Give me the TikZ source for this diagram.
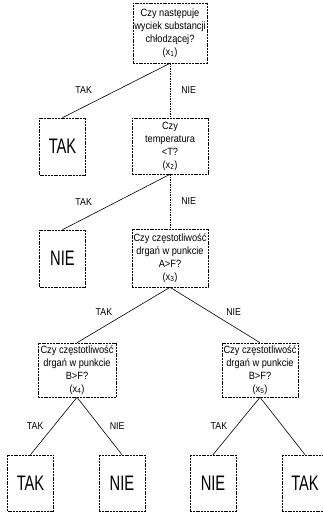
\documentclass[tikz,border=0pt]{standalone}
\usepackage{fontspec}
\setmainfont{Liberation Sans}[FakeStretch=0.88]
\newfontfamily\leaffont{Liberation Sans}[FakeStretch=0.7]
\usetikzlibrary{positioning}

\begin{document}
\begin{tikzpicture}[
      x=1pt,
      y=-1pt,
      box/.style={draw, line width=0.6pt, dash pattern=on 2pt off 0.8pt,
        align=center, font=\fontsize{10.5}{13}\selectfont, inner sep=1pt,
        minimum width=76pt, minimum height=56pt},
      leaf/.style={box, font=\leaffont\fontsize{21}{22}\selectfont,
        minimum width=46pt, minimum height=56pt},
      yes/.style={line width=0.6pt},
      no/.style={line width=0.6pt, dash pattern=on 1.5pt off 1pt},
      lbl/.style={font=\fontsize{10}{11}\selectfont, inner sep=0pt}
    ]
    \useasboundingbox (0,0) rectangle (322,513);

    % questions
    \node[box, minimum width=74pt, minimum height=60pt] (q1) at (170,33)
      {Czy następuje\\wyciek substancji\\chłodzącej?\\(x\textsubscript{1})};
    \node[box] (q2) at (170,146) {Czy\\temperatura\\<T?\\(x\textsubscript{2})};
    \node[box, minimum height=58pt] (q3) at (170,258)
      {Czy częstotliwość\\drgań w punkcie\\A>F?\\(x\textsubscript{3})};
    \node[box, minimum width=78pt, minimum height=54pt] (q4) at (77,370)
      {Czy częstotliwość\\drgań w punkcie\\B>F?\\(x\textsubscript{4})};
    \node[box, minimum height=54pt] (q5) at (260,370)
      {Czy częstotliwość\\drgań w punkcie\\B>F?\\(x\textsubscript{5})};

    % answers
    \node[leaf, minimum height=57pt] (a1) at (62.5,146.5) {TAK};
    \node[leaf, minimum height=57pt] (a2) at (62.5,258.5) {NIE};
    \node[leaf] (a3) at (30.5,483) {TAK};
    \node[leaf] (a4) at (122,483) {NIE};
    \node[leaf] (a5) at (213,483) {NIE};
    \node[leaf] (a6) at (305,483) {TAK};

    \draw[yes] (q1.south) -- node[lbl, midway, left=24pt]{TAK} (a1.north);
    \draw[no] (q1.south) -- node[lbl, midway, right=11pt]{NIE} (q2.north);
    \draw[yes] (q2.south) -- node[lbl, midway, left=24pt]{TAK} (a2.north);
    \draw[no] (q2.south) -- node[lbl, midway, right=11pt]{NIE} (q3.north);
    \draw[yes] (q3.south) -- node[lbl, midway, left=11pt, yshift=3pt]{TAK} (q4.north);
    \draw[yes] (q3.south) -- node[lbl, midway, right=11pt, yshift=3pt]{NIE} (q5.north);
    \draw[yes] (q4.south) -- node[lbl, midway, left=10pt]{TAK} (a3.north);
    \draw[yes] (q4.south) -- node[lbl, midway, right=10pt]{NIE} (a4.north);
    \draw[yes] (q5.south) -- node[lbl, midway, left=9pt]{TAK} (a5.north);
    \draw[yes] (q5.south) -- (a6.north);
  \end{tikzpicture}
\end{document}
